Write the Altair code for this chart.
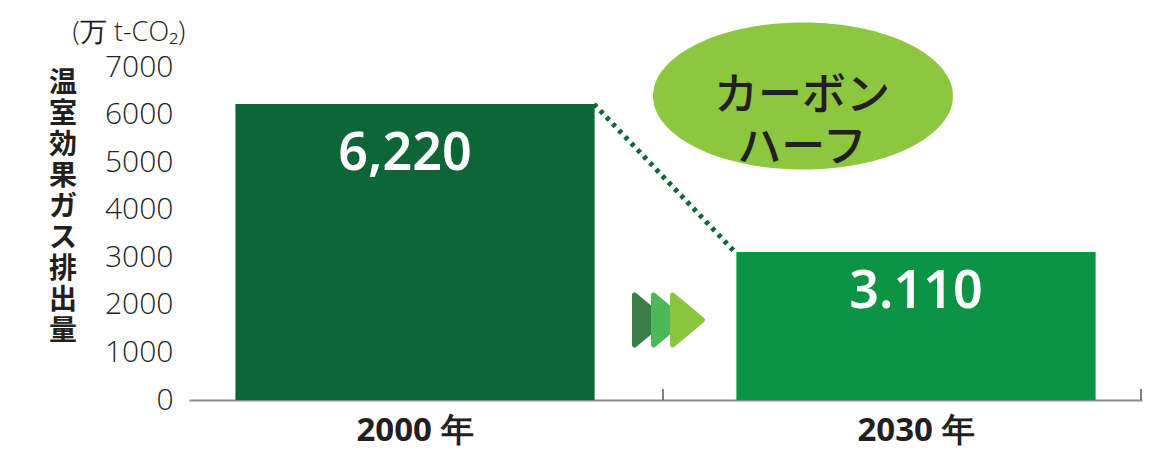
import altair as alt
import pandas as pd

years = ["2000 年", "2030 年"]
values = [6220, 3110]
value_labels = ["6,220", "3.110"]
bar_colors = ["#0E6638", "#0C9444"]
y_ticks = [0, 1000, 2000, 3000, 4000, 5000, 6000, 7000]
unit_label = "(万 t-CO₂)"
y_title = "温室効果ガス排出量"
badge_text = "カーボン\nハーフ"
arrow_colors = ["#3A7F46", "#4DB85A", "#8BC540"]

df = pd.DataFrame({"year": years, "value": values, "label": value_labels})

xscale = alt.Scale(domain=years, paddingInner=0.283, paddingOuter=0.0926)
yscale = alt.Scale(domain=[0, 7000], nice=False, zero=True)

X = alt.X("year:N", scale=xscale, sort=years,
          axis=alt.Axis(title=None, labelAngle=0, ticks=False, domain=True,
                        domainColor="#8a8a8a", domainWidth=2,
                        labelFont="Noto Sans", labelFontWeight="bold",
                        labelFontSize=33, labelColor="#231F20", labelPadding=14))
Y = alt.Y("value:Q", scale=yscale,
          axis=alt.Axis(title=None, values=y_ticks, format="d", ticks=False, domain=False, grid=False,
                        labelFont="Open Sans", labelFontSize=30, labelFontWeight=300,
                        labelColor="#231F20", labelPadding=16))

bars = alt.Chart(df).mark_bar().encode(
    x=X, y=Y,
    color=alt.Color("year:N", scale=alt.Scale(domain=years, range=bar_colors), legend=None),
)

lab1 = alt.Chart(df).transform_filter(alt.datum.year == years[0]).mark_text(
    font="Noto Sans", fontSize=52, fontWeight=600, color="white", baseline="middle", dy=50, dx=-10
).encode(x=alt.X("year:N", scale=xscale, sort=years), y=alt.Y("value:Q", scale=yscale), text="label:N")

lab2 = alt.Chart(df).transform_filter(alt.datum.year == years[1]).mark_text(
    font="Noto Sans", fontSize=52, fontWeight=600, color="white", baseline="middle", dy=40, dx=0
).encode(x=alt.X("year:N", scale=xscale, sort=years), y=alt.Y("value:Q", scale=yscale), text="label:N")

conn_df = pd.DataFrame({"y1": [values[0]], "y2": [values[1]]})
connector = alt.Chart(conn_df).mark_rule(
    color="#0E6638", strokeWidth=5, strokeDash=[4, 5]
).encode(
    x=alt.value(405), x2=alt.value(546),
    y=alt.Y("y1:Q", scale=yscale), y2="y2:Q",
)

tick_df = pd.DataFrame({"t": [0]})
xtick1 = alt.Chart(tick_df).mark_rule(color="#555555", strokeWidth=1.5).encode(
    x=alt.value(474), y=alt.value(322), y2=alt.value(333))
xtick2 = alt.Chart(tick_df).mark_rule(color="#555555", strokeWidth=1.5).encode(
    x=alt.value(952), y=alt.value(322), y2=alt.value(333))

arrow_x = [460.5, 479.5, 498.5]
arrow_layers = []
for c, ax in zip(arrow_colors, arrow_x):
    arrow_layers.append(
        alt.Chart(pd.DataFrame({"c": [c]})).mark_point(
            shape="M -0.6 -1 L 0.6 0 L -0.6 1 Z", filled=True, opacity=1,
            strokeJoin="round", strokeWidth=5, size=2500, fill=c, stroke=c
        ).encode(x=alt.value(ax), y=alt.value(253))
    )

badge_df = pd.DataFrame({"t": [badge_text]})
ellipse = alt.Chart(badge_df).mark_point(
    shape="M -1 0 A 1 0.49 0 1 0 1 0 A 1 0.49 0 1 0 -1 0 Z",
    filled=True, opacity=1, color="#8DC63F", size=300 * 300, strokeWidth=0
).encode(x=alt.value(614), y=alt.value(29))

badge = alt.Chart(badge_df).mark_text(
    font="Noto Sans CJK JP", fontSize=44, fontWeight=500, color="#231F20",
    lineBreak="\n", lineHeight=52, baseline="middle", align="center"
).encode(x=alt.value(613), y=alt.value(30), text="t:N")

unit = alt.Chart(pd.DataFrame({"t": [unit_label]})).mark_text(
    font="Open Sans", fontSize=27, fontWeight=300, color="#231F20", align="center", baseline="middle"
).encode(x=alt.value(-60), y=alt.value(-34), text="t:N")

ytitle_df = pd.DataFrame({"t": ["\n".join(list(y_title))]})
ytitle = alt.Chart(ytitle_df).mark_text(
    font="Noto Sans CJK JP", fontSize=28, fontWeight="bold", color="#231F20",
    lineBreak="\n", lineHeight=31, baseline="top", align="center"
).encode(x=alt.value(-126), y=alt.value(3), text="t:N")

chart = alt.layer(
    bars, connector, xtick1, xtick2, *arrow_layers, ellipse, badge, lab1, lab2, unit, ytitle
).properties(
    width=953, height=333,
    padding={"left": 181, "top": 59, "right": 6, "bottom": 50},
    autosize=alt.AutoSizeParams(type="none"),
    background="white",
).configure_view(stroke=None)

chart.save("out.html", embed_options={"renderer": "svg", "actions": False})
